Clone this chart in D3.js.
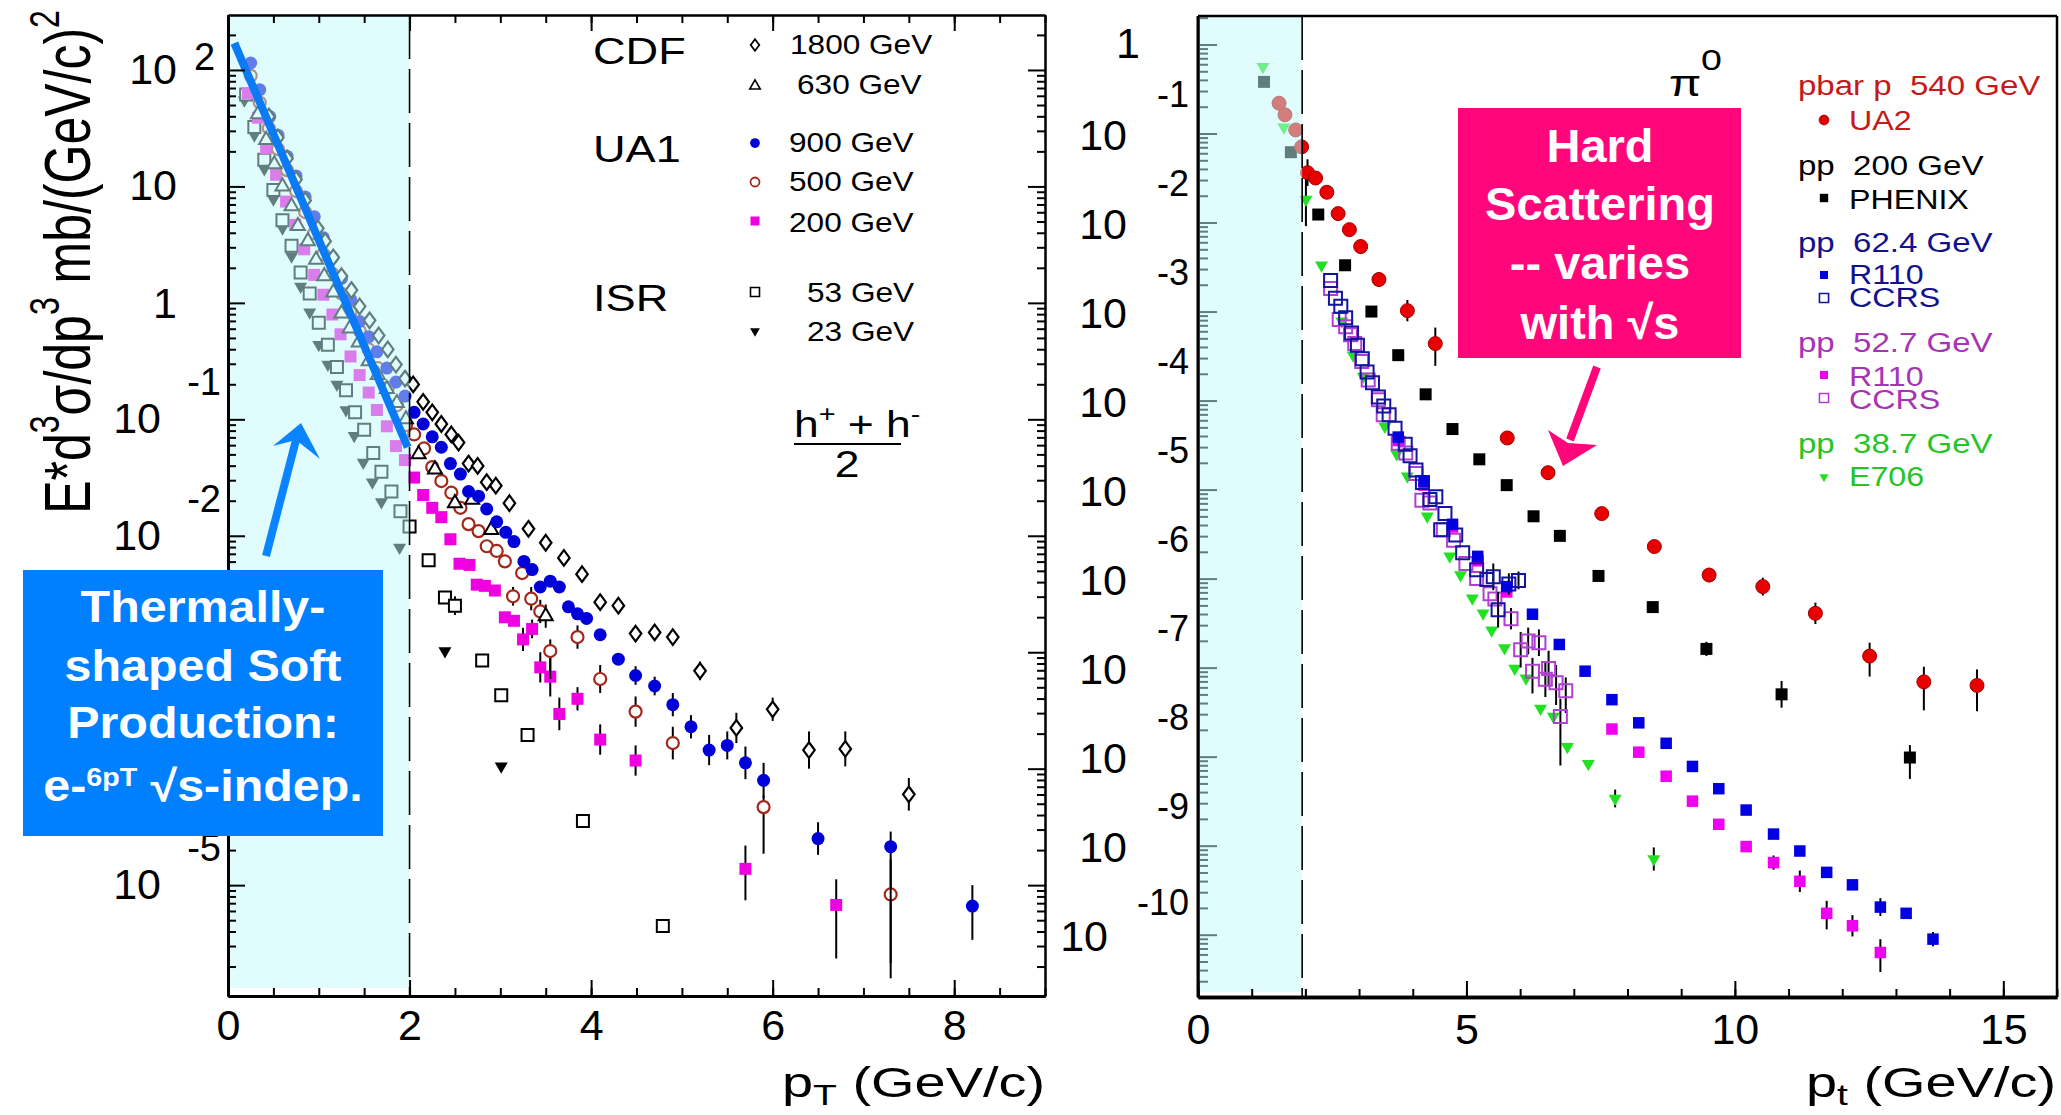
<!DOCTYPE html>
<html>
<head>
<meta charset="utf-8">
<title>pT spectra: soft vs hard production</title>
<script src="https://cdn.jsdelivr.net/npm/d3@7/dist/d3.min.js"></script>
<style>
  body { margin: 0; background: #fff; }
  svg { display: block; }
  text { font-family: "Liberation Sans", Arial, Helvetica, sans-serif; white-space: pre; }
</style>
</head>
<body>
<svg id="chart" width="2061" height="1115"></svg>
<script>
// ---------------- left panel: charged hadrons (h+ + h-)/2 ----------------
// point = [pT (GeV/c), log10 of E d3sigma/dp3 in mb/(GeV/c)^2, error down, error up (decades)]
var cdf1800 = [[0.45,1.60],[0.55,1.42],[0.65,1.24],[0.75,1.06],[0.85,0.88],[0.99,0.64],[1.07,0.53],[1.16,0.39],
  [1.25,0.23],[1.36,0.11],[1.45,-0.03],[1.56,-0.15],[1.66,-0.28],[1.76,-0.40],[1.85,-0.53],[1.95,-0.65],
  [2.04,-0.70],[2.15,-0.85],[2.25,-0.94],[2.35,-1.04],[2.46,-1.13],[2.54,-1.20],[2.65,-1.38],[2.75,-1.40],
  [2.85,-1.54],[2.95,-1.57],[3.10,-1.72],[3.31,-1.94],[3.50,-2.06],[3.70,-2.19],[3.90,-2.33],[4.10,-2.57],
  [4.30,-2.60],[4.49,-2.84],[4.70,-2.83],[4.90,-2.87,0.06,0.06],[5.20,-3.16,0.08,0.08],[5.60,-3.65,0.13,0.13],
  [6.00,-3.49,0.10,0.10],[6.40,-3.84,0.16,0.16],[6.80,-3.83,0.15,0.15],[7.50,-4.22,0.14,0.14]];
var cdf630 = [[0.33,1.62],[0.42,1.40],[0.51,1.19],[0.60,1.00],[0.70,0.83],[0.77,0.66],[0.88,0.53],[0.97,0.37],
  [1.06,0.23],[1.16,0.09],[1.25,-0.09],[1.34,-0.22],[1.44,-0.34],[1.55,-0.50],[1.65,-0.62],[1.75,-0.74],
  [1.86,-0.86],[1.96,-1.00],[2.10,-1.30],[2.28,-1.43],[2.50,-1.72],[2.69,-1.69],[2.90,-1.95],[3.50,-2.69,0.1,0.1]];
var ua1_900 = [[0.25,2.06],[0.35,1.83],[0.46,1.60],[0.55,1.44],[0.65,1.26],[0.75,1.09],[0.85,0.91],[0.95,0.74],
  [1.05,0.56],[1.15,0.39],[1.25,0.21],[1.35,0.03],[1.45,-0.16],[1.55,-0.29],[1.64,-0.42],[1.75,-0.56],
  [1.85,-0.68],[1.95,-0.80],[2.05,-0.94],[2.15,-1.04],[2.25,-1.15],[2.35,-1.24],[2.45,-1.38],[2.56,-1.47],
  [2.65,-1.62],[2.76,-1.66],[2.85,-1.77],[2.96,-1.88],[3.06,-1.97],[3.15,-2.05],[3.26,-2.22],[3.35,-2.29],
  [3.44,-2.44],[3.55,-2.39],[3.65,-2.44],[3.75,-2.61],[3.85,-2.67],[3.95,-2.71],[4.10,-2.85],[4.30,-3.06],
  [4.49,-3.20,0.08,0.08],[4.70,-3.29,0.08,0.08],[4.90,-3.45,0.1,0.1],[5.10,-3.64,0.1,0.1],[5.30,-3.84,0.13,0.13],
  [5.50,-3.80,0.12,0.12],[5.70,-3.95,0.14,0.14],[5.90,-4.10,0.15,0.15],[6.50,-4.60,0.14,0.14],
  [7.30,-4.67,1.0,0.13],[8.20,-5.18,0.29,0.18]];
var ua1_500 = [[0.25,1.95],[0.35,1.72],[0.45,1.50],[0.55,1.32],[0.65,1.14],[0.75,0.96],[0.85,0.78],[0.95,0.60],
  [1.05,0.42],[1.15,0.25],[1.25,0.08],[1.35,-0.08],[1.45,-0.24],[1.55,-0.40],[1.65,-0.56],[1.76,-0.73],
  [1.86,-0.88],[1.96,-1.05],[2.05,-1.13],[2.16,-1.25],[2.25,-1.41],[2.35,-1.53],[2.46,-1.63],[2.56,-1.76],
  [2.65,-1.90],[2.76,-1.96],[2.85,-2.09],[2.96,-2.13],[3.05,-2.22],[3.14,-2.52,0.08,0.08],[3.24,-2.32],
  [3.34,-2.54,0.1,0.1],[3.44,-2.65,0.1,0.1],[3.55,-2.99,0.24,0.1],[3.85,-2.87,0.1,0.1],[4.10,-3.23,0.12,0.12],
  [4.49,-3.51,0.13,0.13],[4.90,-3.78,0.14,0.14],[5.90,-4.33,0.4,0.1],[7.30,-5.08,0.72,0.3]];
var ua1_200 = [[0.22,1.80],[0.33,1.59],[0.42,1.33],[0.53,1.10],[0.64,0.87],[0.74,0.67],[0.84,0.46],[0.95,0.24],
  [1.05,0.07],[1.15,-0.10],[1.24,-0.27],[1.35,-0.46],[1.45,-0.62],[1.55,-0.77],[1.64,-0.92],[1.75,-1.06],
  [1.85,-1.23],[1.95,-1.35],[2.05,-1.50],[2.15,-1.65],[2.25,-1.76],[2.35,-1.84],[2.45,-2.03],[2.55,-2.24],
  [2.66,-2.25],[2.74,-2.42],[2.83,-2.43],[2.94,-2.47],[3.05,-2.70],[3.15,-2.73],[3.25,-2.89,0.1,0.1],
  [3.35,-2.80,0.08,0.08],[3.44,-3.13,0.13,0.13],[3.55,-3.21,0.17,0.17],[3.65,-3.53,0.14,0.14],
  [3.85,-3.40,0.1,0.1],[4.10,-3.75,0.13,0.13],[4.49,-3.93,0.13,0.13],[5.70,-4.86,0.27,0.2],[6.70,-5.17,0.46,0.22]];
var isr53 = [[0.20,1.79],[0.29,1.51],[0.40,1.23],[0.50,0.97],[0.60,0.71],[0.70,0.49],[0.80,0.26],[0.90,0.08],
  [1.00,-0.17],[1.10,-0.36],[1.20,-0.55],[1.30,-0.75],[1.40,-0.94],[1.50,-1.09],[1.60,-1.29],[1.69,-1.45],
  [1.80,-1.62],[1.90,-1.79],[2.00,-1.92],[2.21,-2.21],[2.39,-2.53],[2.50,-2.60,0.08,0.08],[2.80,-3.07],
  [3.01,-3.37],[3.30,-3.71],[3.91,-4.45],[4.79,-5.35,0.06,0.06]];
var isr23 = [[0.18,1.74],[0.29,1.44],[0.40,1.15],[0.50,0.89],[0.60,0.64],[0.70,0.40],[0.80,0.14],[0.90,-0.08],
  [1.00,-0.36],[1.10,-0.53],[1.20,-0.70],[1.30,-0.92],[1.39,-1.14],[1.49,-1.37],[1.59,-1.54],[1.69,-1.71],
  [1.89,-2.10],[2.39,-2.99],[3.01,-3.98]];
var thermalFit = [[0.07, 2.23], [1.98, -1.24]];

var leftGroupNames = ["CDF", "UA1", "ISR"];
var leftLegendLabels = ["1800 GeV", "630 GeV", "900 GeV", "500 GeV", "200 GeV", "53 GeV", "23 GeV"];
var xTicksLeft = [0, 2, 4, 6, 8];

// ---------------- right panel: pi0 ----------------
var ua2 = [[1.51,-0.66],[1.62,-0.79],[1.82,-0.96],[1.93,-1.15],[2.04,-1.44,0.15,0.15],[2.19,-1.50],[2.40,-1.66],
  [2.61,-1.90],[2.82,-2.08],[3.03,-2.27,0.08,0.08],[3.37,-2.64,0.08,0.08],[3.90,-2.99,0.12,0.12],
  [4.42,-3.36,0.25,0.18],[5.76,-4.42],[6.52,-4.81],[7.52,-5.27],[8.50,-5.64],[9.52,-5.96,0.08,0.08],
  [10.52,-6.09,0.1,0.1],[11.50,-6.39,0.12,0.12],[12.51,-6.87,0.23,0.15],[13.52,-7.16,0.32,0.17],[14.51,-7.20,0.29,0.18]];
var phenix = [[1.23,-0.42],[1.73,-1.21],[2.24,-1.91],[2.74,-2.48],[3.23,-3.00],[3.73,-3.49],[4.24,-3.93],
  [4.74,-4.32],[5.24,-4.66],[5.75,-4.95],[6.25,-5.30],[6.74,-5.52],[7.46,-5.97],[8.47,-6.32],
  [9.47,-6.79,0.08,0.08],[10.87,-7.30,0.15,0.15],[13.26,-8.01,0.24,0.14]];
var r110_624 = [[3.73,-4.41],[4.21,-4.91],[4.74,-5.39],[5.21,-5.75],[5.75,-6.09],[6.23,-6.40],[6.73,-6.74],
  [7.21,-7.04],[7.71,-7.36],[8.21,-7.62],[8.72,-7.85],[9.21,-8.11],[9.70,-8.36],[10.21,-8.60],[10.72,-8.87],
  [11.21,-9.06],[11.71,-9.30],[12.19,-9.44],[12.71,-9.69,0.1,0.1],[13.19,-9.76],[13.69,-10.05,0.08,0.08]];
var ccrs_624 = [[2.47,-2.65],[2.56,-2.85],[2.66,-2.94],[2.75,-3.07],[2.86,-3.24],[2.97,-3.38],[3.06,-3.53],
  [3.15,-3.68],[3.25,-3.80],[3.36,-3.96],[3.46,-4.06],[3.56,-4.16],[3.67,-4.31],[3.86,-4.49],[3.95,-4.62],
  [4.06,-4.78],[4.18,-4.92],[4.32,-5.11],[4.43,-5.08],[4.52,-5.45],[4.60,-5.27],[4.80,-5.51],[4.93,-5.71],
  [5.19,-5.90],[5.38,-6.01],[5.50,-5.98,0.15,0.15],[5.59,-6.35,0.2,0.2],[5.79,-6.06,0.12,0.12],[5.97,-6.02,0.1,0.1]];
var r110_527 = [[3.73,-4.45],[4.21,-4.95],[4.74,-5.42],[5.22,-5.80],[5.75,-6.15],[7.71,-7.69],[8.21,-7.95],
  [8.72,-8.22],[9.21,-8.50],[9.70,-8.76],[10.21,-9.01],[10.72,-9.19,0.08,0.08],[11.21,-9.40,0.12,0.12],
  [11.71,-9.76,0.18,0.14],[12.19,-9.90,0.12,0.12],[12.71,-10.20,0.22,0.15]];
var ccrs_527 = [[2.47,-2.74],[2.63,-3.09],[2.75,-3.17],[2.84,-3.26],[2.92,-3.36],[3.05,-3.56],[3.17,-3.77],
  [3.36,-3.99],[3.45,-4.16],[3.73,-4.48],[3.87,-4.59],[4.06,-4.82],[4.17,-5.12],[4.32,-5.15],[4.57,-5.45],
  [4.76,-5.57],[4.99,-5.83],[5.19,-6.00],[5.44,-6.17],[5.53,-6.23],[5.83,-6.45,0.12,0.12],[6.01,-6.80,0.2,0.2],
  [6.15,-6.70,0.15,0.15],[6.35,-6.72,0.15,0.15],[6.23,-7.04,0.25,0.15],[6.53,-7.01,0.2,0.2],[6.47,-7.13,0.2,0.2],
  [6.67,-7.17,0.25,0.2],[6.85,-7.26,0.25,0.15],[6.75,-7.55,0.55,0.2]];
var e706 = [[1.21,-0.25],[1.60,-0.93],[2.01,-1.74,0.3,0.3],[2.30,-2.48],[2.68,-3.11],[2.89,-3.49],[3.08,-3.73],
  [3.48,-4.29],[3.70,-4.60],[3.90,-4.85],[4.27,-5.30],[4.69,-5.75],[4.89,-5.96],[5.11,-6.22],[5.31,-6.39],
  [5.47,-6.58],[5.71,-6.78],[5.90,-7.01],[6.11,-7.12],[6.38,-7.46],[6.62,-7.55],[6.88,-7.89],[7.27,-8.08],
  [7.77,-8.47,0.1,0.1],[8.49,-9.15,0.13,0.13]];

var rightHeaders = ["pbar p  540 GeV", "pp  200 GeV", "pp  62.4 GeV", "pp  52.7 GeV", "pp  38.7 GeV"];
var rightEntries = ["UA2", "PHENIX", "R110", "CCRS", "R110", "CCRS", "E706"];
var xTicksRight = [0, 5, 10, 15];

var softBoxLines = ["Thermally-", "shaped Soft", "Production:"];
var hardBoxLines = ["Hard", "Scattering", "-- varies", "with \u221As"];

// ---------------- drawing ----------------
var svg = d3.select("#chart");
svg.append("rect").attr("width", 2061).attr("height", 1115).attr("fill", "#fff");

function val(lg) { return Math.pow(10, lg); }

var xL = d3.scaleLinear().domain([0, 9]).range([228, 1045]);
var yL = d3.scaleLog().domain([val(-5.952), val(2.472)]).range([996, 15]);
var xR = d3.scaleLinear().domain([0, 16]).range([1198, 2057]);
var yR = d3.scaleLog().domain([val(-10.7), val(0.32)]).range([997, 16]);

function shapePath(shape, s) {
  if (shape === "diamond") return "M0," + (-s * 0.65) + "L" + (s * 0.48) + ",0L0," + (s * 0.65) + "L" + (-s * 0.48) + ",0Z";
  if (shape === "circle") return d3.symbol(d3.symbolCircle, Math.PI * s * s / 4)();
  if (shape === "square") return d3.symbol(d3.symbolSquare, s * s)();
  return d3.symbol(d3.symbolTriangle, s * s * Math.sqrt(3) / 4)();
}

function drawSeries(g, s, x, y) {
  var gs = g.append("g");
  gs.selectAll("line")
    .data(s.data.filter(function (d) { return d.length > 2; }))
    .join("line")
    .attr("x1", d => x(d[0])).attr("x2", d => x(d[0]))
    .attr("y1", d => y(val(d[1] - d[2]))).attr("y2", d => y(val(d[1] + d[3])))
    .attr("stroke", "#000").attr("stroke-width", 2);
  gs.selectAll("path")
    .data(s.data)
    .join("path")
    .attr("d", shapePath(s.shape, s.size))
    .attr("transform", d => "translate(" + x(d[0]) + "," + y(val(d[1])) + ")" + (s.rot ? " rotate(" + s.rot + ")" : ""))
    .attr("fill", s.fill)
    .attr("stroke", s.stroke || "none")
    .attr("stroke-width", s.sw || 0);
}

function legendMark(g, s, x, y, k) {
  g.append("path")
    .attr("d", shapePath(s.shape, s.size * k))
    .attr("transform", "translate(" + x + "," + y + ")" + (s.rot ? " rotate(" + s.rot + ")" : ""))
    .attr("fill", s.fill).attr("stroke", s.stroke || "none").attr("stroke-width", (s.sw || 0) * 0.8);
}

// text helper; sx stretches glyphs horizontally like the original figure
function txt(g, x, y, str, size, o) {
  o = o || {};
  return g.append("text")
    .attr("transform", "translate(" + x + "," + y + ") scale(" + (o.sx || 1) + ",1)" + (o.rot ? " rotate(" + o.rot + ")" : ""))
    .attr("xml:space", "preserve")
    .attr("font-size", size)
    .attr("font-weight", o.bold ? "bold" : null)
    .attr("text-anchor", o.anchor || "start")
    .attr("fill", o.fill || "#000")
    .text(str);
}

function minorLog(scale) {
  var dom = scale.domain(), out = [];
  for (var e = Math.floor(Math.log10(dom[0])); e <= Math.ceil(Math.log10(dom[1])); e++) {
    for (var m = 2; m <= 9; m++) {
      var v = m * Math.pow(10, e);
      if (v >= dom[0] && v <= dom[1]) out.push(v);
    }
  }
  return out;
}

function styleAxis(g, w) {
  g.attr("font-family", null).attr("font-size", 43);
  g.selectAll(".domain").attr("stroke", "#000").attr("stroke-width", w || 2);
  g.selectAll(".tick line").attr("stroke", "#000").attr("stroke-width", 2);
  g.selectAll(".tick text").attr("fill", "#000");
}

// ======== LEFT PANEL ========
var left = svg.append("g");
var leftStyles = [
  {data: isr23, shape: "tri", rot: 180, size: 13, fill: "#000"},
  {data: isr53, shape: "square", size: 12, fill: "#fff", stroke: "#000", sw: 2},
  {data: ua1_200, shape: "square", size: 12, fill: "#f000e0"},
  {data: ua1_500, shape: "circle", size: 12, fill: "#fff", stroke: "#a3281a", sw: 2.2},
  {data: cdf630, shape: "tri", size: 14, fill: "#fff", stroke: "#000", sw: 2},
  {data: ua1_900, shape: "circle", size: 13, fill: "#0000d8"},
  {data: cdf1800, shape: "diamond", size: 12, fill: "#fff", stroke: "#000", sw: 2.2}
];
leftStyles.forEach(function (s) { drawSeries(left, s, xL, yL); });

// soft region shading (translucent, tints the points beneath)
left.append("rect")
  .attr("x", xL(0)).attr("y", 15).attr("width", xL(2) - xL(0)).attr("height", 973)
  .attr("fill", "#c1f9f9").attr("fill-opacity", 0.5);

left.append("line")
  .attr("x1", xL(2)).attr("x2", xL(2)).attr("y1", 15).attr("y2", 996)
  .attr("stroke", "#000").attr("stroke-width", 1.6).attr("stroke-dasharray", "44,10");

left.append("path").datum(thermalFit)
  .attr("d", d3.line().x(d => xL(d[0])).y(d => yL(val(d[1]))))
  .attr("fill", "none").attr("stroke", "#0a7af5").attr("stroke-width", 8);

// frame + ticks
var lb = left.append("g").attr("transform", "translate(0,996)");
lb.append("g").call(d3.axisBottom(xL).tickValues(d3.range(0, 9.01, 0.5)).tickSize(-8).tickSizeOuter(0).tickFormat(""));
lb.append("g").call(d3.axisBottom(xL).tickValues(xTicksLeft).tickSize(-16).tickSizeOuter(0).tickPadding(13).tickFormat(d3.format("d")));
lb.selectAll("g").each(function () { styleAxis(d3.select(this), 3); });

var lt = left.append("g").attr("transform", "translate(0,15)");
lt.append("g").call(d3.axisTop(xL).tickValues(d3.range(0, 9.01, 0.5)).tickSize(-8).tickSizeOuter(0).tickFormat(""));
lt.append("g").call(d3.axisTop(xL).tickValues(xTicksLeft).tickSize(-16).tickSizeOuter(0).tickFormat(""));
lt.selectAll("g").each(function () { styleAxis(d3.select(this), 2); });

var decL = d3.range(-5, 3).map(val);
var ll = left.append("g").attr("transform", "translate(228,0)");
ll.append("g").call(d3.axisLeft(yL).tickValues(minorLog(yL)).tickSize(-8).tickSizeOuter(0).tickFormat(""));
ll.append("g").call(d3.axisLeft(yL).tickValues(decL).tickSize(-17).tickSizeOuter(0).tickFormat(""));
ll.selectAll("g").each(function () { styleAxis(d3.select(this), 3); });

var lr = left.append("g").attr("transform", "translate(1045,0)");
lr.append("g").call(d3.axisRight(yL).tickValues(minorLog(yL)).tickSize(-8).tickSizeOuter(0).tickFormat(""));
lr.append("g").call(d3.axisRight(yL).tickValues(decL).tickSize(-17).tickSizeOuter(0).tickFormat(""));
lr.selectAll("g").each(function () { styleAxis(d3.select(this), 2); });

// y tick labels written ROOT-style: "10" with the exponent up to the right
// (10^-3 and 10^-4 sit under the annotation box, as in the original)
var labL = left.append("g");
d3.range(-5, 3).forEach(function (e) {
  var ty = yL(val(e));
  if (e === -3 || e === -4) return;
  if (e === 0) txt(labL, 177, ty + 15, "1", 43, {anchor: "end"});
  else if (e === 1) txt(labL, 177, ty + 14, "10", 43, {anchor: "end"});
  else if (e > 1) { txt(labL, 177, ty + 14, "10", 43, {anchor: "end"}); txt(labL, 194, ty, String(e), 38); }
  else { txt(labL, 161, ty + 14, "10", 43, {anchor: "end"}); txt(labL, 221, ty - 24, String(e), 38, {anchor: "end"}); }
});

// axis titles
var yt = txt(left, 90, 262, "", 50, {sx: 1.3, rot: -90, anchor: "middle"});
yt.append("tspan").text("E*d");
yt.append("tspan").attr("font-size", 32).attr("dy", -24).text("3");
yt.append("tspan").attr("dy", 24).text("\u03C3/dp");
yt.append("tspan").attr("font-size", 32).attr("dy", -24).text("3");
yt.append("tspan").attr("dy", 24).text(" mb/(GeV/c)");
yt.append("tspan").attr("font-size", 32).attr("dy", -24).text("2");

var xt = txt(left, 1045, 1097, "", 43, {sx: 1.3, anchor: "end"});
xt.append("tspan").text("p");
xt.append("tspan").attr("font-size", 30).attr("dy", 8).text("T");
xt.append("tspan").attr("dy", -8).text(" (GeV/c)");

// legend
var legL = left.append("g");
var groupY = [64, 162, 311];
leftGroupNames.forEach(function (n, i) { txt(legL, 593, groupY[i], n, 37, {sx: 1.22}); });
var legendOrder = [6, 4, 5, 3, 2, 1, 0];
var symY = [45, 86, 143, 182, 221, 292, 331];
var labY = [54, 94, 152, 191, 232, 302, 341];
var labX = [790, 797, 789, 789, 789, 807, 807];
leftLegendLabels.forEach(function (lab, i) {
  legendMark(legL, leftStyles[legendOrder[i]], 755, symY[i], 0.75);
  txt(legL, labX[i], labY[i], lab, 27, {sx: 1.17});
});

var hh = txt(legL, 794, 437, "", 37, {sx: 1.2});
hh.append("tspan").text("h");
hh.append("tspan").attr("font-size", 24).attr("dy", -15).text("+");
hh.append("tspan").attr("dy", 15).text(" + h");
hh.append("tspan").attr("font-size", 24).attr("dy", -15).text("-");
legL.append("line").attr("x1", 794).attr("x2", 901).attr("y1", 444).attr("y2", 444).attr("stroke", "#000").attr("stroke-width", 2);
txt(legL, 847, 477, "2", 37, {sx: 1.2, anchor: "middle"});

// ======== RIGHT PANEL ========
var right = svg.append("g");
var rightStyles = [
  {data: e706, shape: "tri", rot: 180, size: 13, fill: "#22e022"},
  {data: ccrs_527, shape: "square", size: 13, fill: "none", stroke: "#b040d0", sw: 2},
  {data: r110_527, shape: "square", size: 11.5, fill: "#f000f0"},
  {data: ccrs_624, shape: "square", size: 13, fill: "none", stroke: "#1414a0", sw: 2},
  {data: r110_624, shape: "square", size: 11.5, fill: "#0000e0"},
  {data: phenix, shape: "square", size: 12, fill: "#000"},
  {data: ua2, shape: "circle", size: 14, fill: "#e80000", stroke: "#a00000", sw: 1}
];
rightStyles.forEach(function (s) { drawSeries(right, s, xR, yR); });

var decR = d3.range(-10, 1).map(val);
var rl = right.append("g").attr("transform", "translate(1198,0)");
rl.append("g").call(d3.axisLeft(yR).tickValues(minorLog(yR)).tickSize(-10).tickSizeOuter(0).tickFormat(""));
rl.append("g").call(d3.axisLeft(yR).tickValues(decR).tickSize(-19).tickSizeOuter(0).tickFormat(""));
rl.selectAll("g").each(function () { styleAxis(d3.select(this), 3); });

right.append("rect")
  .attr("x", xR(0)).attr("y", 16).attr("width", xR(1.94) - xR(0)).attr("height", 976)
  .attr("fill", "#c1f9f9").attr("fill-opacity", 0.5);

right.append("line")
  .attr("x1", xR(1.94)).attr("x2", xR(1.94)).attr("y1", 16).attr("y2", 997)
  .attr("stroke", "#000").attr("stroke-width", 1.6).attr("stroke-dasharray", "44,10");

right.append("line").attr("x1", 1198).attr("x2", 2057).attr("y1", 16).attr("y2", 16).attr("stroke", "#000").attr("stroke-width", 2.5);
right.append("line").attr("x1", 2057).attr("x2", 2057).attr("y1", 16).attr("y2", 997).attr("stroke", "#000").attr("stroke-width", 2.5);
right.append("line").attr("x1", 1198).attr("x2", 1198).attr("y1", 16).attr("y2", 997).attr("stroke", "#000").attr("stroke-width", 3);

var rb = right.append("g").attr("transform", "translate(0,997)");
rb.append("g").call(d3.axisBottom(xR).tickValues(d3.range(0, 16.01, 1)).tickSize(-8).tickSizeOuter(0).tickFormat(""));
rb.append("g").call(d3.axisBottom(xR).tickValues(xTicksRight).tickSize(-16).tickSizeOuter(0).tickPadding(16).tickFormat(d3.format("d")));
rb.selectAll("g").each(function () { styleAxis(d3.select(this), 3.5); });

var labR = right.append("g");
d3.range(-10, 1).forEach(function (e) {
  var ty = yR(val(e));
  if (e === 0) { txt(labR, 1140, ty + 14, "1", 43, {anchor: "end"}); return; }
  txt(labR, e === -10 ? 1108 : 1127, ty + 16, "10", 43, {anchor: "end"});
  txt(labR, 1189, ty - (e === -10 ? 20 : 27), String(e), 36, {anchor: "end"});
});

var xt2 = txt(right, 2056, 1097, "", 43, {sx: 1.3, anchor: "end"});
xt2.append("tspan").text("p");
xt2.append("tspan").attr("font-size", 30).attr("dy", 8).text("t");
xt2.append("tspan").attr("dy", -8).text(" (GeV/c)");

txt(right, 1669, 96, "\u03C0", 36, {sx: 1.3});
txt(right, 1701, 70, "0", 30, {sx: 1.25});

// legend
var legR = right.append("g");
var headY = [95, 175, 252, 352, 453];
var headCol = ["#c41a1a", "#000", "#12128c", "#a634b4", "#26c426"];
rightHeaders.forEach(function (h, i) { txt(legR, 1798, headY[i], h, 28, {sx: 1.18, fill: headCol[i]}); });
var entY = [130, 209, 284, 307, 386, 409, 486];
var entSym = [120, 198, 275, 298, 375, 398, 477];
var entCol = ["#c41a1a", "#000", "#12128c", "#12128c", "#a634b4", "#a634b4", "#26c426"];
var entStyle = [6, 5, 4, 3, 2, 1, 0];
rightEntries.forEach(function (lab, i) {
  legendMark(legR, rightStyles[entStyle[i]], 1824, entSym[i], 0.7);
  txt(legR, 1849, entY[i], lab, 28, {sx: 1.15, fill: entCol[i]});
});

// ======== annotations ========
var ann = svg.append("g");

// hard scattering box + arrow
ann.append("rect").attr("x", 1458).attr("y", 108).attr("width", 283).attr("height", 250).attr("fill", "#ff067a");
var hardY = [162, 220, 279, 339];
hardBoxLines.forEach(function (l, i) { txt(ann, 1600, hardY[i], l, 47, {bold: true, anchor: "middle", fill: "#fff"}); });
ann.append("line").attr("x1", 1597).attr("y1", 367).attr("x2", 1570).attr("y2", 440)
  .attr("stroke", "#ff067a").attr("stroke-width", 8);
ann.append("path").attr("d", "M1563,466L1548,430L1568,443L1597,445Z").attr("fill", "#ff067a");

// soft production box + arrow
ann.append("line").attr("x1", 266).attr("y1", 556).attr("x2", 296).attr("y2", 440)
  .attr("stroke", "#0a84ff").attr("stroke-width", 8);
ann.append("path").attr("d", "M301,423L273,446L296,440L320,459Z").attr("fill", "#0a84ff");

ann.append("rect").attr("x", 23).attr("y", 570).attr("width", 360).attr("height", 266).attr("fill", "#0080ff");
var softY = [622, 681, 738];
softBoxLines.forEach(function (l, i) { txt(ann, 203, softY[i], l, 44, {bold: true, anchor: "middle", fill: "#fff", sx: 1.1}); });
var last = txt(ann, 203, 801, "", 44, {bold: true, anchor: "middle", fill: "#fff", sx: 1.1});
last.append("tspan").text("e-");
last.append("tspan").attr("font-size", 26).attr("dy", -15).text("6pT");
last.append("tspan").attr("dy", 15).text(" \u221As-indep.");
</script>
</body>
</html>
